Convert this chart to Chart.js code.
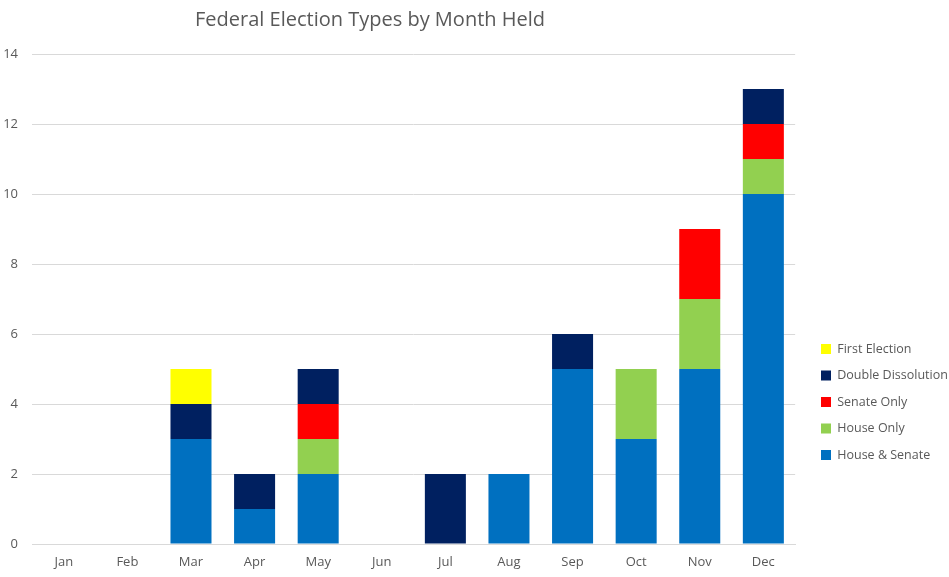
<!DOCTYPE html>
<html>
<head>
<meta charset="utf-8">
<script src="https://cdn.jsdelivr.net/npm/chart.js@4/dist/chart.umd.min.js"></script>
<style>
  html, body { margin: 0; padding: 0; background: #fff; }
  #wrap { width: 949px; height: 577px; }
</style>
</head>
<body>
<div id="wrap"><canvas id="chart"></canvas></div>
<script>
// month categories and counts per election type
var months = ['Jan', 'Feb', 'Mar', 'Apr', 'May', 'Jun', 'Jul', 'Aug', 'Sep', 'Oct', 'Nov', 'Dec'];
var houseSenate = [0, 0, 3, 1, 2, 0, 0, 2, 5, 3, 5, 10];
var houseOnly   = [0, 0, 0, 0, 1, 0, 0, 0, 0, 2, 2, 1];
var senateOnly  = [0, 0, 0, 0, 1, 0, 0, 0, 0, 0, 2, 1];
var doubleDiss  = [0, 0, 1, 1, 1, 0, 2, 0, 1, 0, 0, 1];
var firstElect  = [0, 0, 1, 0, 0, 0, 0, 0, 0, 0, 0, 0];
var yTicks = [0, 2, 4, 6, 8, 10, 12, 14];

var grey = '#595959';
Chart.defaults.font.family = '"Open Sans", sans-serif';
Chart.defaults.color = grey;

function ds(label, data, color) {
    return { label: label, data: data, backgroundColor: color, borderWidth: 0 };
}

// excel puts the title and legend a bit off the default spots
var placeBoxes = {
    id: 'placeBoxes',
    afterLayout: function (chart) {
        var l = chart.legend;
        var h = l.bottom - l.top;
        var w = l.right - l.left;
        l.top = 402 - h / 2;
        l.bottom = l.top + h;
        l.left = 807;
        l.right = l.left + w;
        var t = chart.titleBlock;
        var tw = t.right - t.left;
        t.left = 370 - tw / 2;
        t.right = t.left + tw;
    }
};

new Chart(document.getElementById('chart'), {
    type: 'bar',
    data: {
        labels: months,
        datasets: [
            ds('House & Senate', houseSenate, '#0070C0'),
            ds('House Only', houseOnly, '#92D050'),
            ds('Senate Only', senateOnly, '#FF0000'),
            ds('Double Dissolution', doubleDiss, '#002060'),
            ds('First Election', firstElect, '#FFFF00')
        ]
    },
    options: {
        responsive: true,
        maintainAspectRatio: false,
        animation: false,
        datasets: { bar: { barPercentage: 0.645, categoryPercentage: 1 } },
        layout: { padding: { left: 0, right: 3, top: 0, bottom: 0 } },
        plugins: {
            title: {
                display: true,
                text: 'Federal Election Types by Month Held',
                color: grey,
                font: { size: 20, weight: 'normal' },
                padding: { top: 8, bottom: 22 }
            },
            legend: {
                position: 'right',
                reverse: true,
                labels: {
                    boxWidth: 10,
                    boxHeight: 10,
                    padding: 14,
                    color: grey,
                    font: { size: 12.5 }
                }
            },
            tooltip: { enabled: false }
        },
        scales: {
            x: {
                stacked: true,
                grid: { display: false, drawTicks: false },
                border: { display: true, color: '#d9d9d9', width: 1 },
                ticks: { color: grey, font: { size: 13 }, padding: 10 },
                afterFit: function (s) { s.height = 33; }
            },
            y: {
                stacked: true,
                min: 0,
                max: 14,
                afterBuildTicks: function (s) {
                    s.ticks = yTicks.map(function (v) { return { value: v }; });
                },
                grid: { color: '#d9d9d9', drawTicks: false },
                border: { display: false },
                ticks: { color: grey, font: { size: 13 }, padding: 14 },
                afterFit: function (s) { s.width = 32; }
            }
        }
    },
    plugins: [placeBoxes]
});
</script>
</body>
</html>
